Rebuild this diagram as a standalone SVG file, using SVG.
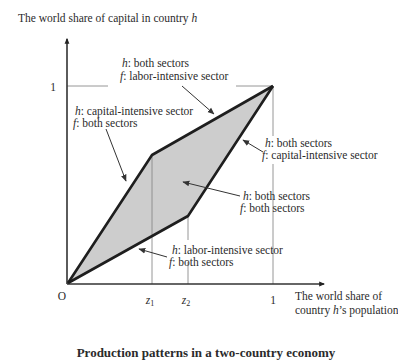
<svg xmlns="http://www.w3.org/2000/svg" width="398" height="362" viewBox="0 0 398 362">
<defs>
<style>
text{font-family:"Liberation Serif","Times New Roman",serif;font-size:11.5px;fill:#2b2b2b}
.cap{font-weight:bold;font-size:13px}
.thin{stroke:#8a8a8a;stroke-width:0.9;fill:none}
.axis{stroke:#333;stroke-width:1.6;fill:none}
.bound{stroke:#1e1e1e;stroke-width:2.6;fill:none;stroke-linejoin:round}
.lead{stroke:#333;stroke-width:1;fill:none}
</style>
<marker id="ah" viewBox="0 0 10 10" refX="9" refY="5" markerWidth="7" markerHeight="7" orient="auto" markerUnits="userSpaceOnUse">
<path d="M0,1 L10,5 L0,9 Z" fill="#333"/>
</marker>
<marker id="ax" viewBox="0 0 10 10" refX="8" refY="5" markerWidth="6" markerHeight="6" orient="auto" markerUnits="userSpaceOnUse">
<path d="M0,1 L10,5 L0,9 Z" fill="#222"/>
</marker>
</defs>
<rect width="398" height="362" fill="#fff"/>

<g id="region">
<polygon points="68,283 152,155 273,86 188,216" fill="#cdcdcd"/>
</g>

<g id="guides">
<line class="thin" x1="67" y1="86" x2="108" y2="86"/>
<line class="thin" x1="236" y1="86" x2="273" y2="86"/>
<line class="thin" x1="273" y1="86" x2="273" y2="136"/>
<line class="thin" x1="273" y1="164" x2="273" y2="284"/>
<line class="thin" x1="152" y1="155" x2="152" y2="284"/>
<line class="thin" x1="188" y1="216" x2="188" y2="240"/>
<line class="thin" x1="188" y1="262" x2="188" y2="284"/>
</g>

<g id="axes">
<line class="axis" x1="67" y1="284" x2="67" y2="39" marker-end="url(#ax)"/>
<line class="axis" x1="67" y1="284" x2="324" y2="284" marker-end="url(#ax)"/>
</g>

<g id="boundary">
<polyline class="bound" points="68,283 152,155 273,86"/>
<polyline class="bound" points="68,283 188,216 273,86"/>
</g>

<g id="connectors">
<line class="lead" x1="182" y1="86" x2="214" y2="114" marker-end="url(#ah)"/>
<line class="lead" x1="106" y1="129" x2="126" y2="181" marker-end="url(#ah)"/>
<line class="lead" x1="263" y1="152" x2="243" y2="140" marker-end="url(#ah)"/>
<line class="lead" x1="240" y1="196" x2="183" y2="182" marker-end="url(#ah)"/>
<line class="lead" x1="167" y1="257" x2="139" y2="249" marker-end="url(#ah)"/>
</g>

<g id="label-top">
<text x="18" y="22">The world share of capital in country <tspan font-style="italic">h</tspan></text>
</g>

<g id="label-a">
<text x="122" y="67"><tspan font-style="italic">h</tspan>: both sectors</text>
<text x="120" y="80"><tspan font-style="italic">f</tspan>: labor-intensive sector</text>
</g>

<g id="label-b">
<text x="75" y="115"><tspan font-style="italic">h</tspan>: capital-intensive sector</text>
<text x="73" y="127"><tspan font-style="italic">f</tspan>: both sectors</text>
</g>

<g id="label-c">
<text x="265" y="147"><tspan font-style="italic">h</tspan>: both sectors</text>
<text x="262" y="159"><tspan font-style="italic">f</tspan>: capital-intensive sector</text>
</g>

<g id="label-d">
<text x="243" y="200"><tspan font-style="italic">h</tspan>: both sectors</text>
<text x="240" y="212"><tspan font-style="italic">f</tspan>: both sectors</text>
</g>

<g id="label-e">
<text x="172" y="254"><tspan font-style="italic">h</tspan>: labor-intensive sector</text>
<text x="169" y="266"><tspan font-style="italic">f</tspan>: both sectors</text>
</g>

<g id="ticks">
<text x="53" y="91" text-anchor="middle">1</text>
<text x="62" y="300" text-anchor="middle">O</text>
<text x="150" y="304" text-anchor="middle"><tspan font-style="italic">z</tspan><tspan font-size="8" dy="2">1</tspan></text>
<text x="186" y="304" text-anchor="middle"><tspan font-style="italic">z</tspan><tspan font-size="8" dy="2">2</tspan></text>
<text x="273" y="304" text-anchor="middle">1</text>
</g>

<g id="label-x">
<text x="295" y="300">The world share of</text>
<text x="295" y="314">country <tspan font-style="italic">h</tspan>’s population</text>
</g>

<g id="caption">
<text class="cap" x="206" y="357" text-anchor="middle">Production patterns in a two-country economy</text>
</g>
</svg>
